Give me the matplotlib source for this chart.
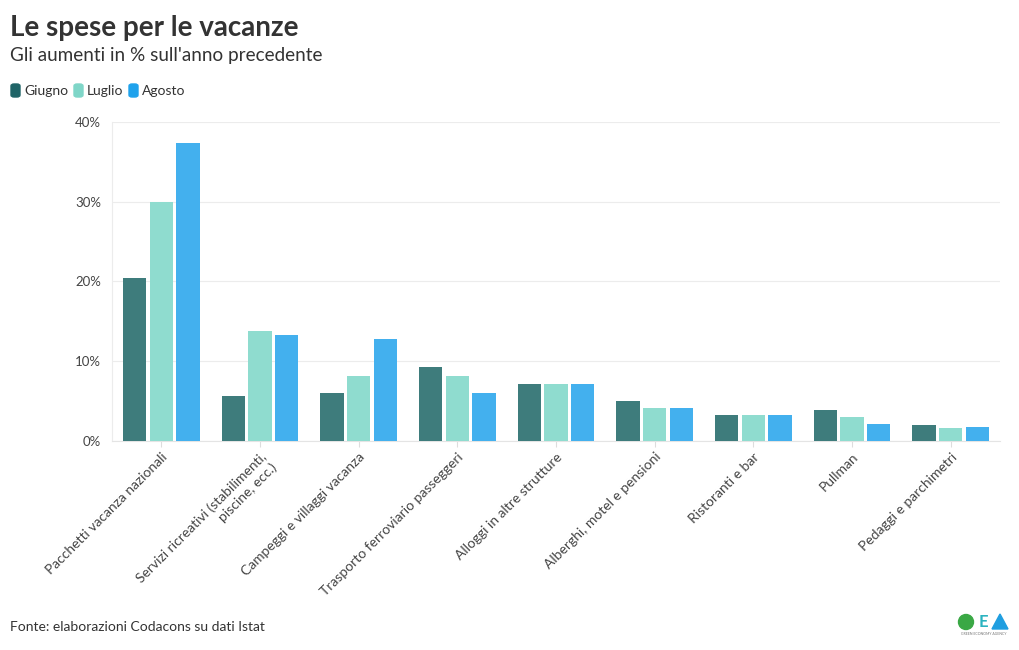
import matplotlib
matplotlib.use("Agg")
import matplotlib.pyplot as plt
import numpy as np
from matplotlib.patches import FancyBboxPatch, Ellipse, Polygon

categories = [
    "Pacchetti vacanza nazionali",
    "Servizi ricreativi (stabilimenti,\npiscine, ecc.)",
    "Campeggi e villaggi vacanza",
    "Trasporto ferroviario passeggeri",
    "Alloggi in altre strutture",
    "Alberghi, motel e pensioni",
    "Ristoranti e bar",
    "Pullman",
    "Pedaggi e parchimetri",
]
series_names = ["Giugno", "Luglio", "Agosto"]
giugno = [20.4, 5.6, 6.0, 9.3, 7.1, 5.0, 3.2, 3.9, 2.0]
luglio = [30.0, 13.8, 8.2, 8.1, 7.1, 4.1, 3.3, 3.0, 1.6]
agosto = [37.4, 13.3, 12.8, 6.0, 7.1, 4.1, 3.2, 2.1, 1.7]
yticks = [0, 10, 20, 30, 40]
ytick_labels = ["0%", "10%", "20%", "30%", "40%"]

bar_colors = ["#3e7c7c", "#8fdccf", "#43b0ee"]
legend_colors = ["#1f6467", "#7fd6c8", "#1fa2ec"]

plt.rcParams['font.family'] = ['Lato', 'DejaVu Sans']

fig = plt.figure(figsize=(10.2, 6.5), dpi=100)
ax = fig.add_axes([112/1020, 1-441/650, 888/1020, 319/650])

x = np.arange(len(categories))
w = 0.235
gap = 0.035
for i, (vals, c) in enumerate(zip([giugno, luglio, agosto], bar_colors)):
    ax.bar(x + (i - 1) * (w + gap), vals, width=w, color=c, zorder=3)

ax.set_xlim(-0.5, len(categories) - 0.5)
ax.set_ylim(0, 40)
ax.set_yticks(yticks)
ax.set_yticklabels(ytick_labels, fontsize=9.5, color="#444444")
ax.grid(axis="y", color="#ececec", linewidth=0.8, zorder=0)
for s in ["top", "right"]:
    ax.spines[s].set_visible(False)
ax.spines["left"].set_color("#ececec")
ax.spines["bottom"].set_color("#e4e4e4")
ax.tick_params(axis="y", length=0, pad=8)
ax.tick_params(axis="x", length=4, color="#dddddd", pad=3)
ax.set_xticks(x)
ax.set_xticklabels(categories, rotation=45, ha="right", va="top",
                   rotation_mode="anchor", fontsize=10, color="#444444",
                   multialignment="right")

fig.text(10/1020, 1-28/650, "Le spese per le vacanze", fontsize=20, fontweight="bold",
         color="#333333", va="center", ha="left")
fig.text(10/1020, 1-56/650, "Gli aumenti in % sull'anno precedente", fontsize=13.6,
         color="#333333", va="center", ha="left")

# legend
lx = 11
ly = 91
for name, c in zip(series_names, legend_colors):
    fig.patches.append(FancyBboxPatch((lx/1020, (650-ly-6)/650), 9/1020, 13/650,
                                      boxstyle="round,pad=0,rounding_size=0.003",
                                      transform=fig.transFigure, color=c))
    fig.text((lx + 13)/1020, 1-ly/650, name, fontsize=10, color="#333333",
             va="center", ha="left")
    lx += {"Giugno": 63, "Luglio": 55, "Agosto": 60}[name]

fig.text(10/1020, 1-627/650, "Fonte: elaborazioni Codacons su dati Istat", fontsize=10,
         color="#333333", va="center", ha="left")

# logo
fig.patches.append(Ellipse((966/1020, 1-622/650), 15/1020, 15/650, transform=fig.transFigure,
                           color="#3aa845"))
fig.text(983/1020, 1-622/650, "E", fontsize=12, fontweight="bold", color="#2bb3c0",
         va="center", ha="center")
fig.patches.append(Polygon([(992/1020, 1-629/650), (1000/1020, 1-614/650), (1008/1020, 1-629/650)],
                           closed=True, transform=fig.transFigure, color="#1f9ee0"))
fig.text(984/1020, 1-634/650, "GREEN ECONOMY AGENCY", fontsize=2.5, color="#777777",
         va="center", ha="center")

fig.savefig("out.png", dpi=100)
